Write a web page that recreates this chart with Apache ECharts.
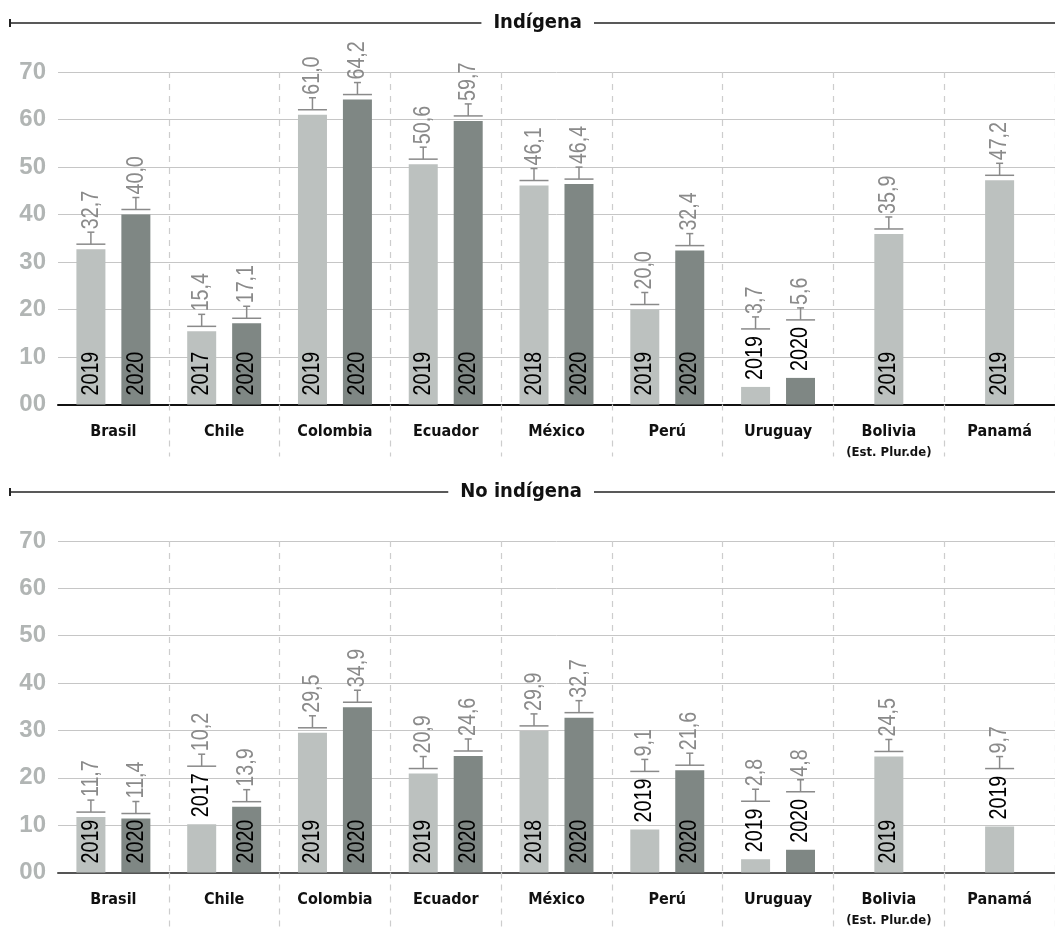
<!DOCTYPE html>
<html>
<head>
<meta charset="utf-8">
<script src="https://cdn.jsdelivr.net/npm/echarts@6/dist/echarts.min.js"></script>
<style>
  html, body { margin: 0; padding: 0; background: #fff; }
  #chart { width: 1055px; height: 930px; }
</style>
</head>
<body>
<div id="chart"></div>
<script>
const countries = ['Brasil', 'Chile', 'Colombia', 'Ecuador', 'México', 'Perú', 'Uruguay', 'Bolivia\n(Est. Plur.de)', 'Panamá']
const yTickLabels = ['00', '10', '20', '30', '40', '50', '60', '70']

// Indígena
const indYearsA = ['2019', '2017', '2019', '2019', '2018', '2019', '2019', '2019', '2019']
const indValuesA = [32.7, 15.4, 61.0, 50.6, 46.1, 20.0, 3.7, 35.9, 47.2]
const indYearsB = ['2020', '2020', '2020', '2020', '2020', '2020', '2020', null, null]
const indValuesB = [40.0, 17.1, 64.2, 59.7, 46.4, 32.4, 5.6, null, null]

// No indígena
const noYearsA = ['2019', '2017', '2019', '2019', '2018', '2019', '2019', '2019', '2019']
const noValuesA = [11.7, 10.2, 29.5, 20.9, 29.9, 9.1, 2.8, 24.5, 9.7]
const noYearsB = ['2020', '2020', '2020', '2020', '2020', '2020', '2020', null, null]
const noValuesB = [11.4, 13.9, 34.9, 24.6, 32.7, 21.6, 4.8, null, null]

const LIGHT = '#bcc1bf'
const DARK = '#7f8784'
const LABEL_GRAY = '#8a8a8a'
const SANS = '"Liberation Sans", Arial, sans-serif'
const COND = '"DejaVu Sans Condensed", "Liberation Sans", sans-serif'
const NARROW_SCALE = 0.82       // squeeze Liberation Sans to look like a narrow face
const BAR_W = 29
const BAR_STEP = 22.5           // distance from category centre to each bar centre
const YEAR_INSIDE_MIN = 11      // below this the year is written above the bar

const panels = [
  { title: 'Indígena', titleY: 23, top: 72, height: 332.5, axisColor: '#111', tickLen: 52,
    yearsA: indYearsA, valuesA: indValuesA, yearsB: indYearsB, valuesB: indValuesB },
  { title: 'No indígena', titleY: 492, top: 541, height: 331.5, axisColor: '#555', tickLen: 60,
    yearsA: noYearsA, valuesA: noValuesA, yearsB: noYearsB, valuesB: noValuesB }
]

const fmt = v => v.toFixed(1).replace('.', ',')

function vText(x, y, text, color) {
  return {
    type: 'text', x: x, y: y, rotation: Math.PI / 2, scaleX: NARROW_SCALE,
    style: { text: text, x: 0, y: 0, align: 'left', verticalAlign: 'middle',
      fill: color, fontSize: 24, fontFamily: SANS }
  }
}

function makeRender(items) {
  return function (params, api) {
    const it = items[params.dataIndex]
    const base = api.coord([it.cat, 0])
    const top = api.coord([it.cat, it.value])
    const x = base[0] + it.side * BAR_STEP
    const line = { stroke: LABEL_GRAY, lineWidth: 1.5 }
    const children = []
    let capY
    if (it.value < YEAR_INSIDE_MIN) {
      children.push(vText(x, top[1] - 7, it.year, '#000'))
      capY = top[1] - 58
    } else {
      children.push(vText(x, base[1] - 9, it.year, '#000'))
      capY = top[1] - 5
    }
    const stemTop = capY - 12
    children.push({ type: 'line', shape: { x1: x - BAR_W / 2, y1: capY, x2: x + BAR_W / 2, y2: capY }, style: line })
    children.push({ type: 'line', shape: { x1: x, y1: capY, x2: x, y2: stemTop }, style: line })
    children.push({ type: 'line', shape: { x1: x - 3.5, y1: stemTop, x2: x + 3.5, y2: stemTop }, style: line })
    children.push(vText(x, stemTop - 3, fmt(it.value), LABEL_GRAY))
    return { type: 'group', children }
  }
}

const grid = [], xAxis = [], yAxis = [], series = [], graphic = []

panels.forEach((p, i) => {
  grid.push({ left: 58, top: p.top, width: 1006, height: p.height })

  const dashed = { color: '#cdcdcd', type: [6, 6], width: 1.2 }
  xAxis.push({
    type: 'category', gridIndex: i, data: countries,
    axisLine: { lineStyle: { color: p.axisColor, width: 2 } },
    axisTick: { show: true, length: p.tickLen, interval: idx => idx > 0, lineStyle: dashed },
    splitLine: { show: true, interval: idx => idx > 0, lineStyle: dashed },
    axisLabel: {
      interval: 0, margin: 16,
      formatter: v => {
        const parts = v.split('\n')
        return parts[1] ? `{main|${parts[0]}}\n{sub|${parts[1]}}` : `{main|${parts[0]}}`
      },
      rich: {
        main: { fontSize: 16, fontWeight: 'bold', fontFamily: COND, color: '#111', lineHeight: 22 },
        sub: { fontSize: 13, fontWeight: 'bold', fontFamily: COND, color: '#111', lineHeight: 21 }
      }
    }
  })
  xAxis.push({ type: 'category', gridIndex: i, data: countries, show: false })

  yAxis.push({
    type: 'value', gridIndex: i, min: 0, max: 70, interval: 10,
    axisLine: { show: false }, axisTick: { show: false },
    axisLabel: { formatter: v => yTickLabels[Math.round(v / 10)], color: '#b1b5b4', fontSize: 24,
      fontWeight: 'bold', fontFamily: SANS, margin: 12 },
    splitLine: { lineStyle: { color: '#c6c6c6', width: 1 } }
  })

  const paired = p.valuesA.map((v, k) => (p.valuesB[k] == null ? null : v))
  const single = p.valuesA.map((v, k) => (p.valuesB[k] == null ? v : null))
  series.push(
    { type: 'bar', xAxisIndex: 2 * i, yAxisIndex: i, data: paired, barWidth: BAR_W, barGap: '55%',
      itemStyle: { color: LIGHT }, silent: true },
    { type: 'bar', xAxisIndex: 2 * i, yAxisIndex: i, data: p.valuesB, barWidth: BAR_W, barGap: '55%',
      itemStyle: { color: DARK }, silent: true },
    { type: 'bar', xAxisIndex: 2 * i + 1, yAxisIndex: i, data: single, barWidth: BAR_W,
      itemStyle: { color: LIGHT }, silent: true }
  )

  const items = []
  p.valuesA.forEach((v, k) => {
    if (p.valuesB[k] != null) {
      items.push({ cat: k, value: v, year: p.yearsA[k], side: -1 })
      items.push({ cat: k, value: p.valuesB[k], year: p.yearsB[k], side: 1 })
    } else {
      items.push({ cat: k, value: v, year: p.yearsA[k], side: 0 })
    }
  })
  series.push({
    type: 'custom', xAxisIndex: 2 * i, yAxisIndex: i, z: 10, silent: true,
    data: items.map(it => [it.cat, it.value]),
    renderItem: makeRender(items)
  })

  // section header: rule with a short end tick and the title on a white patch
  graphic.push(
    { type: 'line', shape: { x1: 10, y1: p.titleY, x2: 1055, y2: p.titleY }, style: { stroke: '#222', lineWidth: 1.6 } },
    { type: 'line', shape: { x1: 10, y1: p.titleY - 4, x2: 10, y2: p.titleY + 4 }, style: { stroke: '#222', lineWidth: 2 } },
    { type: 'text', x: 594, y: p.titleY, z: 10,
      style: { text: p.title, align: 'right', verticalAlign: 'middle', fill: '#111', fontSize: 20,
        fontWeight: 'bold', fontFamily: COND, backgroundColor: '#fff', padding: [2, 12] } }
  )
})

const myChart = echarts.init(document.getElementById('chart'))
myChart.setOption({ animation: false, grid, xAxis, yAxis, series, graphic })
</script>
</body>
</html>
